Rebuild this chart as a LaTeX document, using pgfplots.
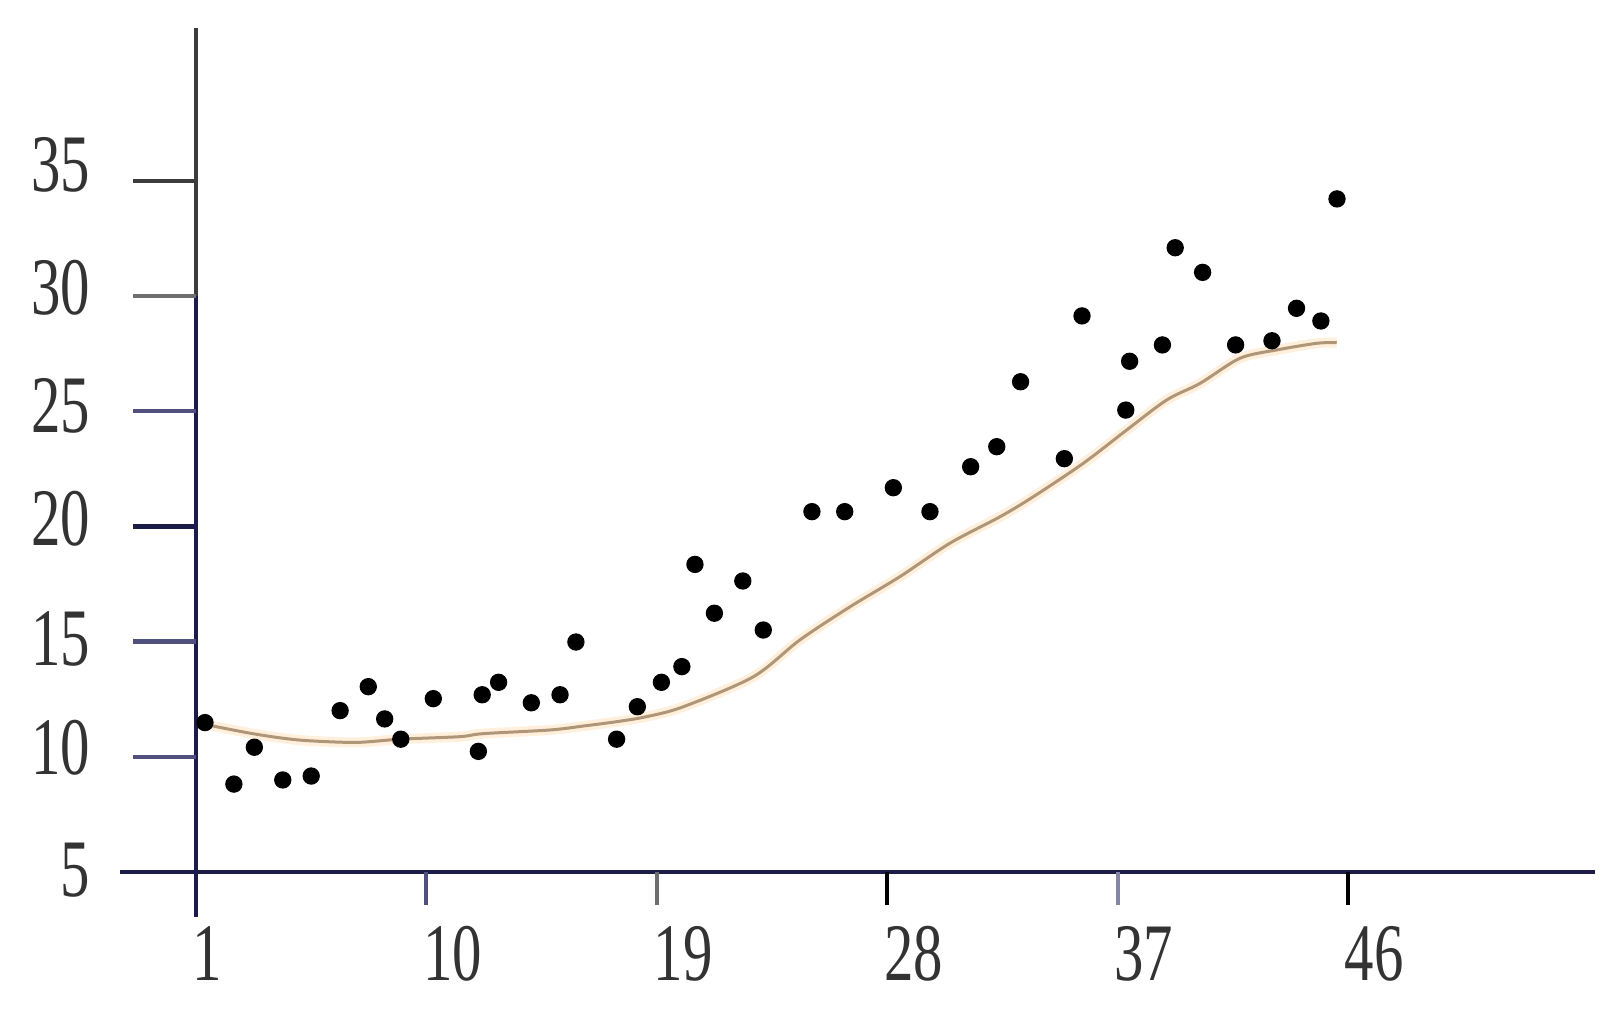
\documentclass[border=0pt]{standalone}
\usepackage{fontspec}
\setmainfont[FakeStretch=0.72]{Liberation Serif}
\usepackage{pgfplots}
\pgfplotsset{compat=1.18}

\definecolor{axnavy}{RGB}{28,28,72}
\definecolor{axgray}{RGB}{60,60,60}
\definecolor{tickA}{RGB}{80,80,125}
\definecolor{tickB}{RGB}{110,110,110}
\definecolor{trend}{RGB}{176,150,120}
\definecolor{glow}{RGB}{255,228,195}

\pgfplotstableread{
x     y
1.35  11.48
2.48  8.81
3.28  10.41
4.39  8.99
5.50  9.16
6.63  12.00
7.73  13.04
8.37  11.64
9.00  10.76
10.27 12.52
12.03 10.23
12.18 12.69
12.82 13.23
14.10 12.34
15.22 12.69
15.84 14.98
17.43 10.76
18.24 12.17
19.18 13.23
19.98 13.91
20.49 18.35
21.25 16.23
22.36 17.63
23.16 15.50
25.06 20.64
26.34 20.64
28.24 21.68
29.67 20.64
31.26 22.59
32.28 23.46
33.21 26.28
34.92 22.94
35.61 29.14
37.32 25.05
37.47 27.17
38.75 27.88
39.25 32.10
40.32 31.03
41.61 27.88
43.03 28.06
43.99 29.47
44.94 28.92
45.57 34.22
}\points

\pgfplotstableread{
x     y
1.35  11.40
3.11  11.02
4.41  10.80
5.45  10.69
7.28  10.62
8.97  10.76
11.31 10.87
12.21 11.00
14.83 11.16
16.12 11.33
17.43 11.52
18.61 11.74
20.04 12.17
22.77 13.47
24.59 15.07
26.55 16.51
28.50 17.82
30.45 19.27
32.41 20.42
33.71 21.29
35.66 22.74
37.36 24.19
38.92 25.49
40.22 26.21
41.78 27.30
43.21 27.66
44.78 27.95
45.56 27.98
}\trendline

\begin{document}
\begin{tikzpicture}
\begin{axis}[
    hide axis,
    x=7.68pt, y=6.909pt,
    xmin=-6.656, xmax=56.195,
    ymin=-1.259, ymax=42.857,
    clip=false,
]
% picture frame (bounding box)
\path (axis cs:-6.656,-1.259) rectangle (axis cs:56.195,42.857);
% axis lines
\draw[axnavy, line width=1.2pt] (axis cs:-1.97,5) -- (axis cs:55.65,5);
\draw[axnavy, line width=1.2pt] (axis cs:1,3.03) -- (axis cs:1,30);
\draw[axgray, line width=1.2pt] (axis cs:1,30) -- (axis cs:1,41.64);
% y ticks
\draw[axgray, line width=1.3pt] (axis cs:-1.46,35) -- (axis cs:1,35);
\draw[tickB, line width=1.3pt] (axis cs:-1.46,30) -- (axis cs:1,30);
\draw[tickA, line width=1.3pt] (axis cs:-1.46,25) -- (axis cs:1,25);
\draw[axnavy, line width=1.3pt] (axis cs:-1.46,20) -- (axis cs:1,20);
\draw[tickA, line width=1.3pt] (axis cs:-1.46,15) -- (axis cs:1,15);
\draw[tickA, line width=1.3pt] (axis cs:-1.46,10) -- (axis cs:1,10);
% x ticks
\draw[tickA, line width=1.2pt] (axis cs:10,5) -- (axis cs:10,3.56);
\draw[tickB, line width=1.2pt] (axis cs:19,5) -- (axis cs:19,3.56);
\draw[black, line width=1.2pt] (axis cs:28,5) -- (axis cs:28,3.56);
\draw[tickA!70, line width=1.2pt] (axis cs:37,5) -- (axis cs:37,3.56);
\draw[black, line width=1.2pt] (axis cs:46,5) -- (axis cs:46,3.56);
% tick labels (baselines as in the reference)
\tikzset{lbl/.style={inner sep=0pt, text=black!80, font=\fontsize{24.5}{28}\selectfont}}
\node[lbl, anchor=base east] at (axis cs:-3.12,3.91) {5};
\node[lbl, anchor=base east] at (axis cs:-3.12,9.21) {10};
\node[lbl, anchor=base east] at (axis cs:-3.12,13.98) {15};
\node[lbl, anchor=base east] at (axis cs:-3.12,19.19) {20};
\node[lbl, anchor=base east] at (axis cs:-3.12,24.06) {25};
\node[lbl, anchor=base east] at (axis cs:-3.12,29.18) {30};
\node[lbl, anchor=base east] at (axis cs:-3.12,34.52) {35};
\pgfplotsinvokeforeach{1,10,19,28,37,46}{
  \node[lbl, anchor=base west, xshift=-1.15pt] at (axis cs:#1,0.30) {#1};
}
% trend curve
\addplot[glow, line width=3pt, opacity=0.6, smooth, no marks] table[x=x,y=y] {\trendline};
\addplot[trend, line width=0.9pt, smooth, no marks] table[x=x,y=y] {\trendline};
% observations
\addplot[only marks, mark=*, mark size=2.4pt, black] table[x=x,y=y] {\points};
\end{axis}
\end{tikzpicture}
\end{document}
